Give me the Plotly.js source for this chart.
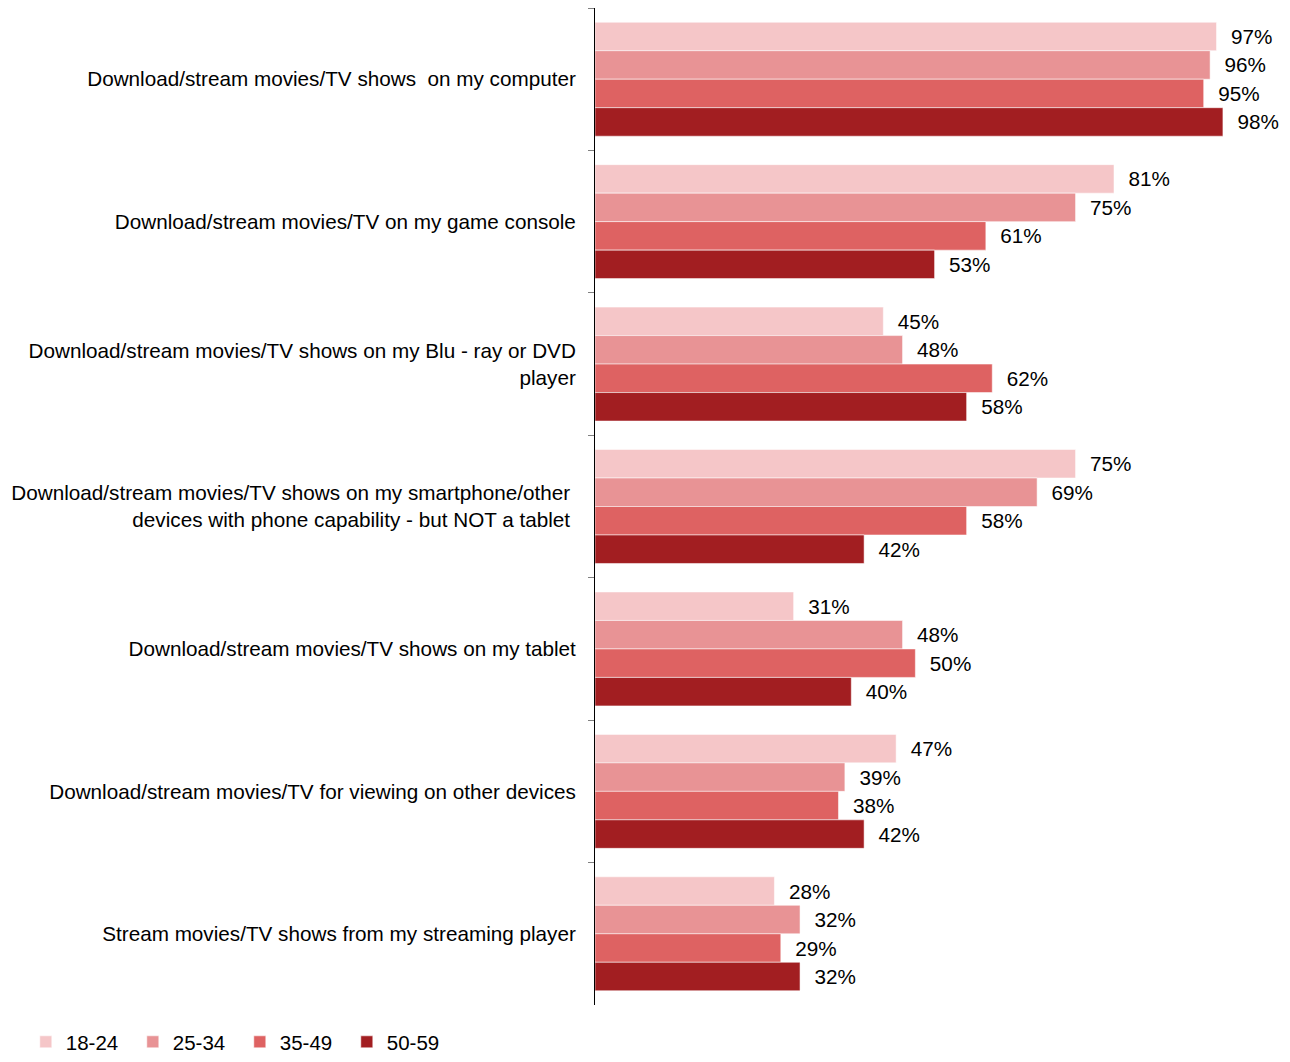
<!DOCTYPE html>
<html>
<head>
<meta charset="utf-8">
<script src="https://cdn.plot.ly/plotly-3.0.1.min.js"></script>
<style>html,body{margin:0;padding:0;background:#fff;}#chart{width:1290px;height:1062px;}</style>
</head>
<body>
<div id="chart"></div>
<script>
const categories = [
  "Download/stream movies/TV shows  on my computer",
  "Download/stream movies/TV on my game console",
  "Download/stream movies/TV shows on my Blu - ray or DVD<br>player",
  "Download/stream movies/TV shows on my smartphone/other <br>devices with phone capability - but NOT a tablet ",
  "Download/stream movies/TV shows on my tablet",
  "Download/stream movies/TV for viewing on other devices",
  "Stream movies/TV shows from my streaming player"
];
const seriesNames = ["18-24", "25-34", "35-49", "50-59"];
const age18_24 = [97, 81, 45, 75, 31, 47, 28];
const age25_34 = [96, 75, 48, 69, 48, 39, 32];
const age35_49 = [95, 61, 62, 58, 50, 38, 29];
const age50_59 = [98, 53, 58, 42, 40, 42, 32];
const seriesValues = [age18_24, age25_34, age35_49, age50_59];
const colors = ["#F5C6C8", "#E89395", "#DE6262", "#A21E21"];

const FONT = "Liberation Sans, Arial, sans-serif";

const traces = seriesValues.map((vals, i) => ({
  type: "bar",
  orientation: "h",
  name: seriesNames[i],
  y: categories,
  x: vals,
  marker: {color: colors[i], line: {color: "rgba(255,255,255,0.7)", width: 0.75}},
  text: vals.map(v => "\u00a0\u00a0" + v + "%"),
  textposition: "outside",
  textfont: {family: FONT, size: 20.7, color: "#000"},
  constraintext: "none",
  cliponaxis: false,
  hoverinfo: "skip"
}));

const layout = {
  width: 1290,
  height: 1062,
  margin: {l: 595, r: 3, t: 8, b: 57},
  paper_bgcolor: "#fff",
  plot_bgcolor: "#fff",
  barmode: "group",
  bargap: 0.2,
  bargroupgap: 0,
  font: {family: FONT, size: 20.7, color: "#000"},
  xaxis: {
    range: [0, 108],
    showgrid: false,
    zeroline: false,
    showticklabels: false,
    showline: false,
    ticks: "",
    fixedrange: true
  },
  yaxis: {
    type: "category",
    autorange: "reversed",
    showline: true,
    linecolor: "#000",
    linewidth: 1,
    ticks: "outside",
    tickson: "boundaries",
    ticklen: 6,
    tickcolor: "#808080",
    tickwidth: 1,
    ticklabelstandoff: 14,
    showgrid: false,
    tickfont: {family: FONT, size: 20.7, color: "#000"}
  },
  showlegend: true,
  legend: {
    orientation: "h",
    xref: "container",
    yref: "paper",
    x: 0.02,
    xanchor: "left",
    y: -0.052,
    yanchor: "middle",
    font: {family: FONT, size: 20.5, color: "#000"},
    entrywidth: 62,
    itemwidth: 30,
    traceorder: "normal"
  }
};

Plotly.newPlot("chart", traces, layout, {displayModeBar: false, staticPlot: true});
</script>
</body>
</html>
